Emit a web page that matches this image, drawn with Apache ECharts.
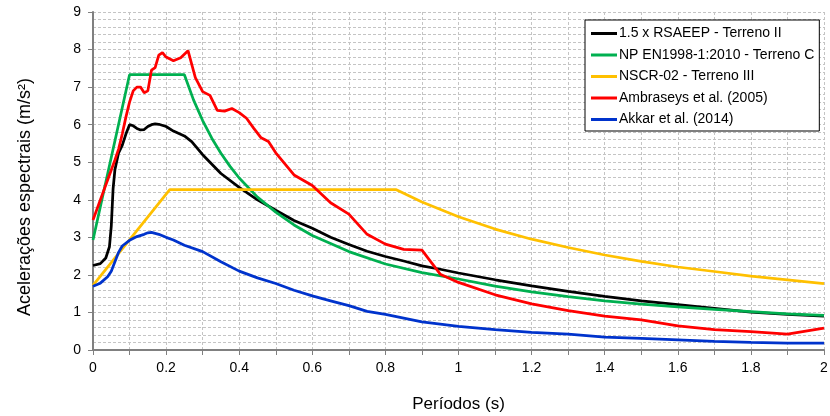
<!DOCTYPE html>
<html>
<head>
<meta charset="utf-8">
<script src="https://cdn.jsdelivr.net/npm/echarts@6/dist/echarts.min.js"></script>
<style>html,body{margin:0;padding:0;background:#fff}#c{width:830px;height:416px}</style>
</head>
<body>
<div id="c"></div>
<script>
var seriesNames = ['1.5 x RSAEEP - Terreno II', 'NP EN1998-1:2010 - Terreno C', 'NSCR-02 - Terreno III', 'Ambraseys et al. (2005)', 'Akkar et al. (2014)'];
var xTickLabels = ['0', '0.2', '0.4', '0.6', '0.8', '1', '1.2', '1.4', '1.6', '1.8', '2'];

var rsaeepT = [0, 0.02, 0.035, 0.045, 0.05, 0.055, 0.06, 0.07, 0.08, 0.09, 0.1, 0.11, 0.12, 0.13, 0.14, 0.15, 0.16, 0.17, 0.18, 0.2, 0.22, 0.25, 0.27, 0.3, 0.32, 0.35, 0.4, 0.45, 0.5, 0.55, 0.6, 0.65, 0.7, 0.75, 0.8, 0.85, 0.9, 0.95, 1.0, 1.1, 1.2, 1.3, 1.4, 1.5, 1.6, 1.7, 1.8, 1.9, 2.0];
var rsaeepA = [2.25, 2.3, 2.45, 2.75, 3.3, 4.3, 4.8, 5.25, 5.45, 5.75, 6.0, 5.97, 5.9, 5.86, 5.87, 5.95, 6.0, 6.02, 6.01, 5.95, 5.83, 5.7, 5.55, 5.2, 5.0, 4.7, 4.33, 4.0, 3.72, 3.45, 3.24, 3.0, 2.81, 2.63, 2.49, 2.37, 2.24, 2.15, 2.05, 1.87, 1.71, 1.56, 1.43, 1.31, 1.21, 1.11, 1.01, 0.95, 0.9];

var ec8T = [0, 0.1, 0.25, 0.275, 0.3, 0.325, 0.35, 0.375, 0.4, 0.45, 0.5, 0.55, 0.6, 0.7, 0.8, 0.9, 1.0, 1.1, 1.2, 1.3, 1.4, 1.5, 1.6, 1.7, 1.8, 1.9, 2.0];
var ec8A = [2.93, 7.33, 7.33, 6.66, 6.11, 5.64, 5.24, 4.89, 4.58, 4.07, 3.67, 3.33, 3.05, 2.62, 2.29, 2.06, 1.89, 1.70, 1.55, 1.42, 1.31, 1.22, 1.15, 1.08, 1.02, 0.96, 0.92];

var nscrT = [0, 0.21, 0.83, 0.9, 1.0, 1.1, 1.2, 1.3, 1.4, 1.5, 1.6, 1.7, 1.8, 1.9, 2.0];
var nscrA = [1.72, 4.27, 4.27, 3.94, 3.55, 3.22, 2.95, 2.73, 2.53, 2.36, 2.21, 2.09, 1.97, 1.87, 1.77];

var ambT = [0, 0.06, 0.07, 0.08, 0.09, 0.1, 0.11, 0.12, 0.13, 0.14, 0.15, 0.16, 0.17, 0.18, 0.19, 0.2, 0.22, 0.24, 0.26, 0.28, 0.3, 0.32, 0.34, 0.36, 0.38, 0.4, 0.42, 0.44, 0.46, 0.48, 0.5, 0.55, 0.6, 0.65, 0.7, 0.75, 0.8, 0.85, 0.9, 0.95, 1.0, 1.1, 1.2, 1.3, 1.4, 1.5, 1.6, 1.7, 1.8, 1.9, 2.0];
var ambA = [3.46, 5.06, 5.35, 5.75, 6.2, 6.6, 6.9, 7.0, 7.0, 6.85, 6.9, 7.45, 7.52, 7.85, 7.92, 7.8, 7.7, 7.78, 7.97, 7.25, 6.88, 6.78, 6.38, 6.36, 6.43, 6.32, 6.17, 5.9, 5.65, 5.55, 5.25, 4.66, 4.38, 3.92, 3.62, 3.08, 2.82, 2.68, 2.66, 2.02, 1.8, 1.47, 1.23, 1.05, 0.9, 0.8, 0.64, 0.54, 0.49, 0.42, 0.58];

var akkT = [0, 0.02, 0.04, 0.05, 0.06, 0.07, 0.08, 0.1, 0.12, 0.14, 0.15, 0.16, 0.18, 0.2, 0.22, 0.25, 0.3, 0.35, 0.4, 0.45, 0.5, 0.55, 0.6, 0.65, 0.7, 0.75, 0.8, 0.9, 1.0, 1.1, 1.2, 1.3, 1.4, 1.5, 1.6, 1.7, 1.8, 1.9, 2.0];
var akkA = [1.7, 1.78, 1.95, 2.1, 2.35, 2.6, 2.77, 2.92, 3.02, 3.08, 3.12, 3.13, 3.08, 3.0, 2.93, 2.79, 2.62, 2.35, 2.1, 1.92, 1.77, 1.59, 1.44, 1.31, 1.18, 1.03, 0.95, 0.75, 0.63, 0.54, 0.47, 0.42, 0.34, 0.31, 0.27, 0.23, 0.2, 0.18, 0.18];

var colors = ['#000000', '#00B050', '#FFC000', '#FF0000', '#0033CC'];
var allT = [rsaeepT, ec8T, nscrT, ambT, akkT];
var allA = [rsaeepA, ec8A, nscrA, ambA, akkA];

function pairs(t, a) { return t.map(function (v, i) { return [v, a[i]]; }); }

var FONT = '"Liberation Sans", Arial, sans-serif';
var gridLine = { show: true, lineStyle: { color: '#c4c4c4', type: [3, 2], width: 1 } };

var chart = echarts.init(document.getElementById('c'), null, { renderer: 'canvas' });
chart.setOption({
  animation: false,
  backgroundColor: '#fff',
  grid: { left: 93, right: 6, top: 12, bottom: 66, containLabel: false, outerBoundsMode: 'none' },
  legend: {
    orient: 'vertical',
    left: 585, top: 20,
    data: seriesNames,
    icon: 'rect',
    itemWidth: 26, itemHeight: 3,
    itemGap: 6.5,
    padding: [6, 5, 4, 6],
    backgroundColor: '#fff',
    borderColor: '#000', borderWidth: 1,
    textStyle: { fontFamily: FONT, fontSize: 14, color: '#000', lineHeight: 15, padding: [0, 0, 0, -3] }
  },
  xAxis: {
    type: 'value', min: 0, max: 2, interval: 0.2,
    name: 'Períodos (s)', nameLocation: 'middle', nameGap: 46,
    nameTextStyle: { fontFamily: FONT, fontSize: 17, color: '#000' },
    axisLine: { show: true, onZero: false, lineStyle: { color: '#808080', width: 2 } },
    axisTick: { show: true, length: 5, lineStyle: { color: '#808080', width: 1 } },
    minorTick: { show: true, splitNumber: 2, length: 5, lineStyle: { color: '#808080', width: 1 } },
    splitLine: gridLine,
    minorSplitLine: gridLine,
    axisLabel: {
      fontFamily: FONT, fontSize: 14, color: '#000', margin: 11,
      formatter: function (v) { return xTickLabels[Math.round(v / 0.2)]; }
    }
  },
  yAxis: {
    type: 'value', min: 0, max: 9, interval: 1,
    name: 'Acelerações espectrais (m/s²)', nameLocation: 'middle', nameGap: 59,
    nameTextStyle: { fontFamily: FONT, fontSize: 18, color: '#000', padding: [0, 32, 0, 0] },
    axisLine: { show: true, lineStyle: { color: '#808080', width: 2 } },
    axisTick: { show: true, length: 5, lineStyle: { color: '#808080', width: 1 } },
    minorTick: { show: false, splitNumber: 5 },
    splitLine: gridLine,
    minorSplitLine: gridLine,
    axisLabel: { fontFamily: FONT, fontSize: 14, color: '#000', margin: 12 }
  },
  series: seriesNames.map(function (n, i) {
    return {
      name: n, type: 'line',
      data: pairs(allT[i], allA[i]),
      showSymbol: false, symbol: 'none',
      color: colors[i],
      lineStyle: { color: colors[i], width: 2.75 },
      z: 2 + i
    };
  })
});
</script>
</body>
</html>
